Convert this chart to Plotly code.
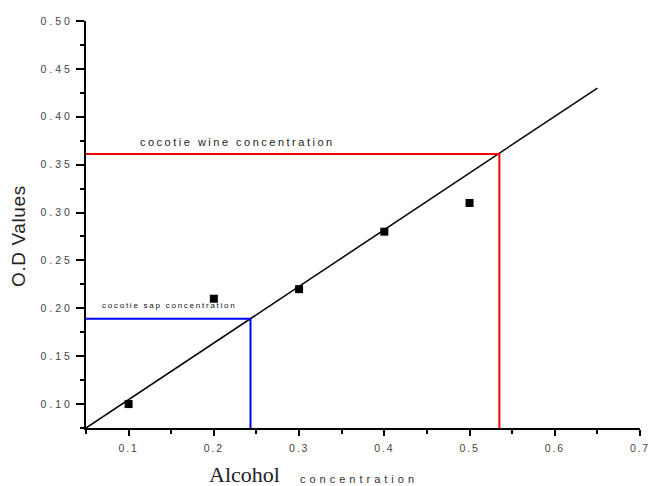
import plotly.graph_objects as go

# Data
alcohol = [0.1, 0.2, 0.3, 0.4, 0.5]
od_values = [0.10, 0.21, 0.22, 0.28, 0.31]

fit_x = [0.05, 0.65]
fit_y = [0.075, 0.43]

wine_x = 0.535
wine_y = 0.361
sap_x = 0.243
sap_y = 0.189

x_min, x_max = 0.05, 0.70
y_min, y_max = 0.075, 0.50

x_ticks = [0.1, 0.2, 0.3, 0.4, 0.5, 0.6, 0.7]
y_ticks = [0.10, 0.15, 0.20, 0.25, 0.30, 0.35, 0.40, 0.45, 0.50]


def spaced(t, px):
    return f'<span style="letter-spacing:{px}px">{t}</span>'


fig = go.Figure()

fig.add_trace(go.Scatter(x=fit_x, y=fit_y, mode="lines",
                         line=dict(color="black", width=1.5), showlegend=False))
fig.add_trace(go.Scatter(x=[x_min, wine_x, wine_x], y=[wine_y, wine_y, y_min], mode="lines",
                         line=dict(color="#ff0000", width=2), showlegend=False))
fig.add_trace(go.Scatter(x=[x_min, sap_x, sap_x], y=[sap_y, sap_y, y_min], mode="lines",
                         line=dict(color="#0000ff", width=2), showlegend=False))
fig.add_trace(go.Scatter(x=alcohol, y=od_values, mode="markers",
                         marker=dict(symbol="square", size=8, color="black"), showlegend=False))

tickfont = dict(family="Liberation Sans, Arial, sans-serif", size=10.5, color="#444444")

fig.update_xaxes(range=[x_min, x_max], tickvals=x_ticks,
                 ticktext=[spaced(f"{v:.1f}", 1.8) for v in x_ticks],
                 showline=True, linewidth=2, linecolor="black", showgrid=False, zeroline=False,
                 ticks="outside", ticklen=6, tickwidth=2, tickcolor="black", tickfont=tickfont,
                 ticklabelstandoff=3, automargin=False, ticklabeloverflow="allow",
                 minor=dict(dtick=0.05, tick0=0.05, ticks="outside", ticklen=4, tickwidth=1.5,
                            tickcolor="black", showgrid=False))
fig.update_yaxes(range=[y_min, y_max], tickvals=y_ticks,
                 ticktext=[spaced(f"{v:.2f}", 3) for v in y_ticks],
                 showline=True, linewidth=2, linecolor="black", showgrid=False, zeroline=False,
                 ticks="outside", ticklen=8, tickwidth=2, tickcolor="black", tickfont=tickfont,
                 ticklabelstandoff=1, automargin=False, ticklabeloverflow="allow",
                 minor=dict(dtick=0.025, tick0=0.075, ticks="outside", ticklen=4, tickwidth=1.5,
                            tickcolor="black", showgrid=False))

fig.add_annotation(x=0.111, y=0.374, xref="x", yref="y",
                   text=spaced("cocotie wine concentration", 2.5),
                   showarrow=False, xanchor="left", yanchor="middle",
                   font=dict(family="Liberation Sans, Arial, sans-serif", size=11, color="#222222"))
fig.add_annotation(x=0.066, y=0.2026, xref="x", yref="y",
                   text=spaced("cocotie sap concentration", 1.75),
                   showarrow=False, xanchor="left", yanchor="middle",
                   font=dict(family="Liberation Sans, Arial, sans-serif", size=8, color="#111111"))

# axis titles (positions given in screen pixels, converted below)
fig.add_annotation(x=18, y=236, xref="paper", yref="paper", text=spaced("O.D Values", 0.6),
                   showarrow=False, textangle=-90, xanchor="center", yanchor="middle",
                   font=dict(family="Liberation Sans, Arial, sans-serif", size=19, color="#222222"))
fig.add_annotation(x=244, y=474, xref="paper", yref="paper", text="Alcohol", showarrow=False,
                   xanchor="center", yanchor="middle",
                   font=dict(family="Liberation Serif, Times New Roman, serif", size=22, color="#222222"))
fig.add_annotation(x=298, y=479, xref="paper", yref="paper", text=spaced("concentration", 4),
                   showarrow=False, xanchor="left", yanchor="middle",
                   font=dict(family="Liberation Sans, Arial, sans-serif", size=11, color="#333333"))

W, H = 651, 486
ml, mr, mt, mb = 86, 11, 21, 486 - 428
pw, ph = W - ml - mr, H - mt - mb
for ann in fig.layout.annotations:
    if ann.xref == "paper":
        ann.x = (ann.x - ml) / pw
        ann.y = (H - mb - ann.y) / ph

fig.update_layout(width=W, height=H, margin=dict(l=ml, r=mr, t=mt, b=mb, autoexpand=False),
                  plot_bgcolor="white", paper_bgcolor="white")

fig.write_html("out.html", config={"displayModeBar": False},
               post_script="document.body.style.margin='0';document.body.style.overflow='hidden';")
